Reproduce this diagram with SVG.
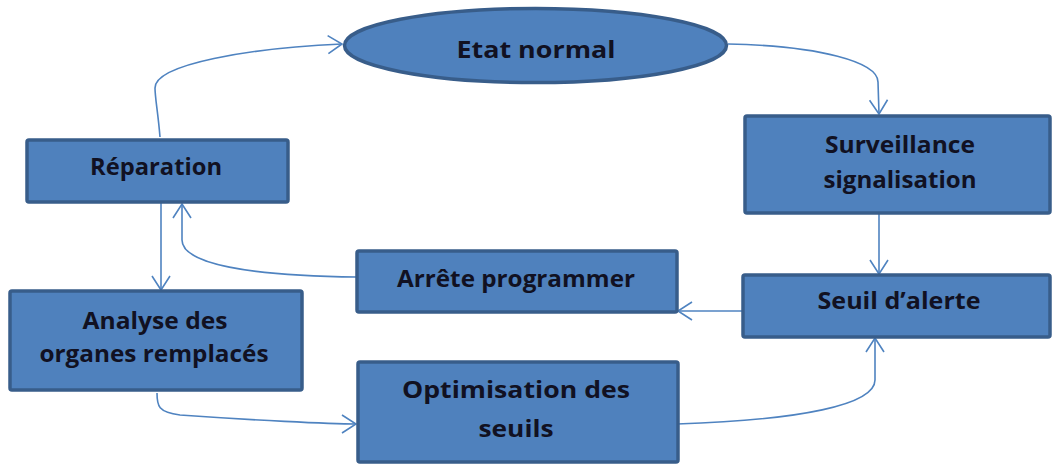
<svg xmlns="http://www.w3.org/2000/svg" width="1054" height="464" viewBox="0 0 1054 464">
<style>
.box{fill:#4f81bd;stroke:#385d8a;stroke-width:3.5}
.lbl{font-family:"Open Sans","Liberation Sans",sans-serif;font-weight:700;font-size:23px;fill:#111122;text-anchor:middle}
.con{fill:none;stroke:#4f83c0;stroke-width:1.6;marker-end:url(#ah)}
</style>
<defs>
<marker id="ah" markerUnits="userSpaceOnUse" viewBox="-16 -11 18 22" refX="0" refY="0" markerWidth="18" markerHeight="22" orient="auto">
<path d="M-14,-9 L0,0 L-14,9" fill="none" stroke="#4f83c0" stroke-width="1.6"/>
</marker>
</defs>
<rect width="1054" height="464" fill="#ffffff"/>
<g id="connectors">
<path class="con" d="M160,137 C158,112 155,98 155,88 C155,64 250,48 342,44"/>
<path class="con" d="M728,44 C820,46 878,62 878,82 L879,114"/>
<path class="con" d="M879,214 L879,274"/>
<path class="con" d="M743,311 L678,311"/>
<path class="con" d="M357,277 C250,276 182,264 182,240 L182,204"/>
<path class="con" d="M161,203 L161,290"/>
<path class="con" d="M157,393 C157,406 158,412 180,415 C250,420 330,424 356,424"/>
<path class="con" d="M677,424 C800,420 875,405 875,380 L875,338"/>
</g>
<g id="etat-normal">
<ellipse class="box" cx="535.5" cy="45.5" rx="191" ry="37"/>
<text class="lbl" x="536" y="58" font-size="24" textLength="159" lengthAdjust="spacingAndGlyphs">Etat normal</text>
</g>
<g id="reparation">
<rect class="box" x="27" y="140" width="261" height="62" rx="2"/>
<text class="lbl" x="156" y="175" textLength="132" lengthAdjust="spacingAndGlyphs">Réparation</text>
</g>
<g id="surveillance">
<rect class="box" x="745" y="116" width="305" height="97" rx="2"/>
<text class="lbl" x="900" y="153" textLength="150" lengthAdjust="spacingAndGlyphs">Surveillance</text>
<text class="lbl" x="900" y="188" textLength="153" lengthAdjust="spacingAndGlyphs">signalisation</text>
</g>
<g id="seuil-alerte">
<rect class="box" x="743" y="275" width="307" height="62" rx="2"/>
<text class="lbl" x="899" y="309" textLength="163" lengthAdjust="spacingAndGlyphs">Seuil d’alerte</text>
</g>
<g id="arrete-programmer">
<rect class="box" x="357" y="251" width="320" height="61" rx="2"/>
<text class="lbl" x="516" y="287" textLength="238" lengthAdjust="spacingAndGlyphs">Arrête programmer</text>
</g>
<g id="analyse">
<rect class="box" x="10" y="291" width="292" height="99" rx="2"/>
<text class="lbl" x="155" y="329" textLength="145" lengthAdjust="spacingAndGlyphs">Analyse des</text>
<text class="lbl" x="154" y="362" textLength="229" lengthAdjust="spacingAndGlyphs">organes remplacés</text>
</g>
<g id="optimisation">
<rect class="box" x="358" y="362" width="320" height="100" rx="2"/>
<text class="lbl" x="516" y="398" font-size="24" textLength="228" lengthAdjust="spacingAndGlyphs">Optimisation des</text>
<text class="lbl" x="516" y="437" font-size="24" textLength="75" lengthAdjust="spacingAndGlyphs">seuils</text>
</g>
</svg>
